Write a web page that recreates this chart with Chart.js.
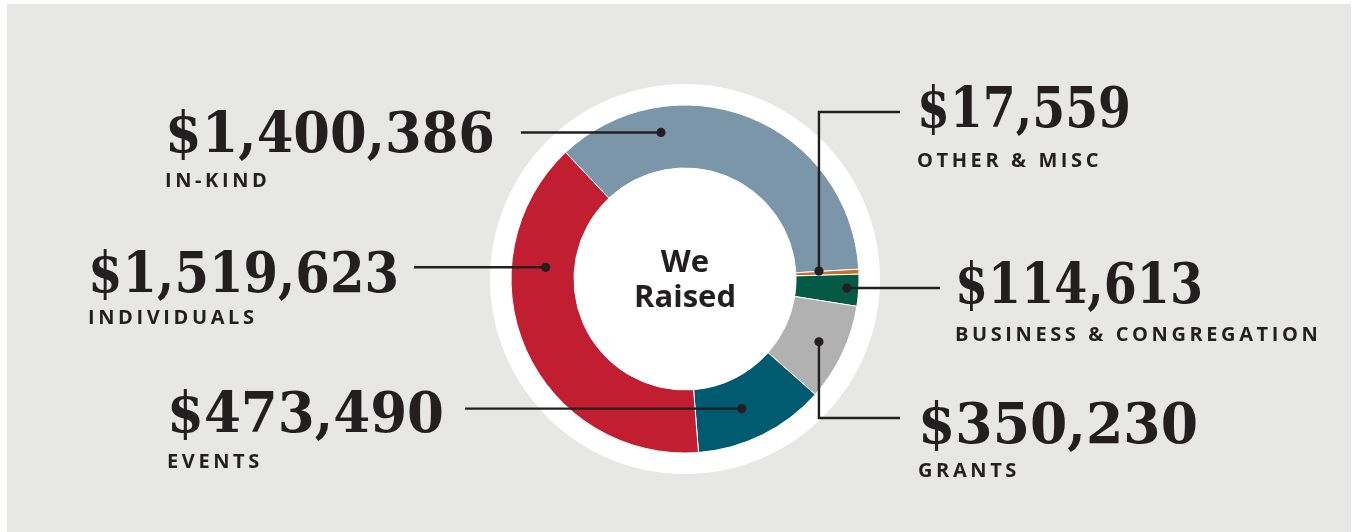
<!DOCTYPE html>
<html><head><meta charset="utf-8">
<script src="https://cdn.jsdelivr.net/npm/chart.js@4.4.1/dist/chart.umd.min.js"></script>
<style>html,body{margin:0;padding:0;background:#fff;overflow:hidden}#wrap{width:1357px;height:532px;position:relative}</style>
</head><body><div id="wrap"><canvas id="c"></canvas></div>
<script>
// ---- data ----
const categories = ['IN-KIND', 'OTHER & MISC', 'BUSINESS & CONGREGATION', 'GRANTS', 'EVENTS', 'INDIVIDUALS'];
const amounts = [1400386, 17559, 114613, 350230, 473490, 1519623];
const sliceColors = ['#7a96a8', '#c8702a', '#055a45', '#b1b1b1', '#005a70', '#c11f31'];
const centerTitle = ['We', 'Raised'];

// ---- annotation layout (label placement, leader lines) ----
const labelX      = [165, 917, 955, 918, 167, 88];
const amountBase  = [152, 127, 303, 443, 432, 292];
const amountMaxW  = [330, 214, 248, 280, 277, 311];
const catBase     = [187, 167, 341, 477, 468, 324];
const dotAngle    = [350.7, 86.6, 93.2, 115.1, 156.4, 274.8]; // deg clockwise from top
const dotRadius   = [148.5, 134.2, 162.2, 147.9, 141.5, 139.8];
const elbowY      = [null, 112, null, 418, null, null];
const lineEndX    = [521, 900, 940, 900, 465, 414];

const INK = '#231f20';
const fmt = v => '$' + v.toLocaleString('en-US');

const annot = {
  id: 'annot',
  beforeDraw(chart) {
    const ctx = chart.ctx;
    ctx.save();
    ctx.fillStyle = '#ffffff';
    ctx.fillRect(0, 0, chart.width, chart.height);
    ctx.fillStyle = '#e7e7e5';
    ctx.fillRect(7, 4, 1344, 528);
    ctx.restore();
  },
  beforeDatasetsDraw(chart) {
    const ctx = chart.ctx;
    const a = chart.getDatasetMeta(0).data[0];
    ctx.save();
    ctx.fillStyle = '#ffffff';
    ctx.beginPath();
    ctx.arc(a.x, a.y, a.outerRadius + 21, 0, Math.PI * 2);
    ctx.fill();
    ctx.restore();
  },
  afterDatasetsDraw(chart) {
    const ctx = chart.ctx;
    const a = chart.getDatasetMeta(0).data[0];
    const cx = a.x, cy = a.y;
    ctx.save();
    // center text
    ctx.fillStyle = INK;
    ctx.textAlign = 'center';
    ctx.textBaseline = 'alphabetic';
    ctx.font = '700 31px "Open Sans"';
    ctx.fillText(centerTitle[0], cx, cy - 7);
    ctx.fillText(centerTitle[1], cx, cy + 28);

    // leader lines and dots
    ctx.strokeStyle = INK;
    ctx.lineWidth = 2.4;
    ctx.lineJoin = 'miter';
    categories.forEach((c, i) => {
      const ang = dotAngle[i] * Math.PI / 180;
      const dx = cx + Math.sin(ang) * dotRadius[i];
      const dy = cy - Math.cos(ang) * dotRadius[i];
      ctx.beginPath();
      ctx.moveTo(dx, dy);
      if (elbowY[i] !== null) {
        ctx.lineTo(dx, elbowY[i]);
        ctx.lineTo(lineEndX[i], elbowY[i]);
      } else {
        ctx.lineTo(lineEndX[i], dy);
      }
      ctx.stroke();
      ctx.beginPath();
      ctx.arc(dx, dy, 4.6, 0, Math.PI * 2);
      ctx.fillStyle = INK;
      ctx.fill();
    });

    // labels
    ctx.textAlign = 'left';
    categories.forEach((c, i) => {
      ctx.fillStyle = INK;
      ctx.letterSpacing = '0px';
      ctx.font = '700 56px "DejaVu Serif"';
      ctx.fillText(fmt(amounts[i]), labelX[i], amountBase[i], amountMaxW[i]);
      ctx.letterSpacing = '3.6px';
      ctx.font = '700 20px "Open Sans"';
      ctx.fillText(c, labelX[i], catBase[i]);
    });
    ctx.restore();
  }
};

new Chart(document.getElementById('c'), {
  type: 'doughnut',
  data: {
    labels: categories,
    datasets: [{
      data: amounts,
      backgroundColor: sliceColors,
      borderColor: '#ffffff',
      borderWidth: 1,
      hoverOffset: 0
    }]
  },
  options: {
    responsive: true,
    maintainAspectRatio: false,
    animation: false,
    events: [],
    rotation: -43.3,
    radius: 174,
    cutout: '63.8%',
    layout: { padding: { left: 13, right: 0, top: 26, bottom: 0 } },
    plugins: { legend: { display: false }, tooltip: { enabled: false } }
  },
  plugins: [annot]
});
</script>
</body></html>
